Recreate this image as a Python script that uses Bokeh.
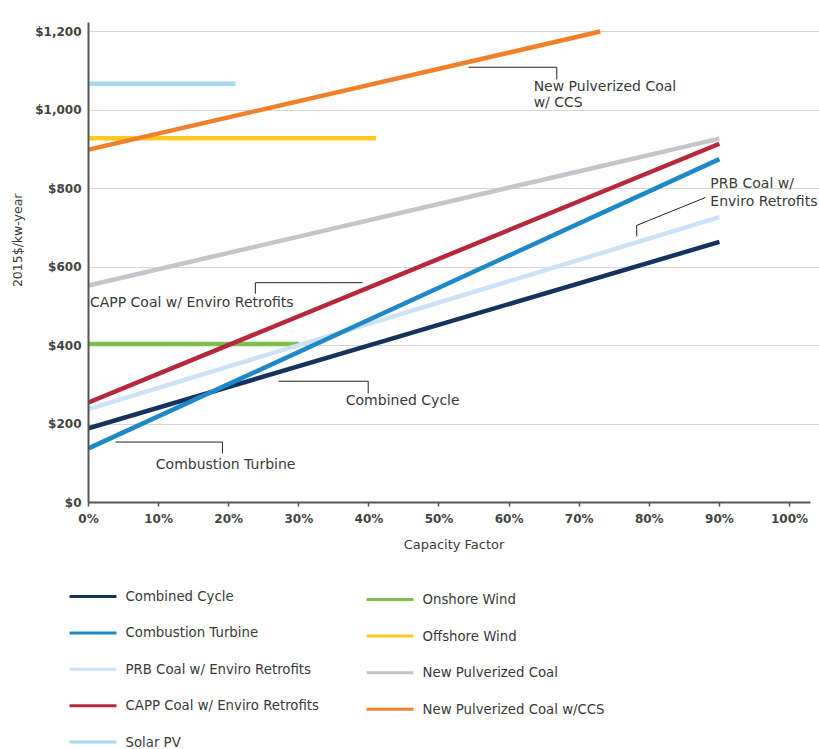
from bokeh.plotting import figure
from bokeh.layouts import column
from bokeh.models import (Range1d, FixedTicker, NumeralTickFormatter,
                          PrintfTickFormatter, Title, ColumnDataSource)
from bokeh.core.properties import value
from bokeh.embed import file_html
from bokeh.resources import INLINE

# ---------------- data ----------------
series = ["Combined Cycle", "Combustion Turbine", "PRB Coal w/ Enviro Retrofits",
          "CAPP Coal w/ Enviro Retrofits", "Solar PV", "Onshore Wind",
          "Offshore Wind", "New Pulverized Coal", "New Pulverized Coal w/CCS"]
colors = ["#15335c", "#1f89c8", "#cde3f5", "#b5283d", "#a8d9ef",
          "#7cc04b", "#fdca22", "#c3c5c9", "#f0802a"]
cf_start = [0, 0, 0, 0, 0, 0, 0, 0, 0]
cf_end = [90, 90, 90, 90, 21, 30, 41, 90, 73]
cost_start = [189, 138, 238, 255, 1067, 404, 928, 553, 899]
cost_end = [664, 875, 727, 914, 1067, 404, 928, 927, 1200]

x_ticks = [0, 10, 20, 30, 40, 50, 60, 70, 80, 90, 100]
y_ticks = [0, 200, 400, 600, 800, 1000, 1200]

# callouts: label lines and leader lines (x in %, y in $)
callout_text = ["New Pulverized Coal", "w/ CCS", "PRB Coal w/", "Enviro Retrofits",
                "CAPP Coal w/ Enviro Retrofits", "Combined Cycle", "Combustion Turbine"]
callout_x = [63.5, 63.5, 88.7, 88.7, 0.2, 36.7, 9.6]
callout_y = [1060, 1020, 815, 769, 512, 262, 97]
leader_xs = [[54.2, 66.8, 66.8], [88.0, 78.2, 78.2], [39.1, 23.8, 23.8],
             [27.1, 39.9, 39.9], [3.85, 19.1, 19.1]]
leader_ys = [[1109, 1109, 1078], [777, 706, 678], [560, 560, 532],
             [309, 309, 278], [154, 154, 125]]

TXT = "#3a3a3a"
AX = "#555555"
FONT = "DejaVu Sans"

# ---------------- main chart ----------------
p = figure(width=819, height=560, output_backend="svg", toolbar_location=None,
           x_range=Range1d(0, 104.28), y_range=Range1d(0, 1223),
           min_border_left=88, min_border_right=0, min_border_top=22,
           min_border_bottom=58, background_fill_color="#ffffff",
           border_fill_color="#ffffff", frame_align=False)
p.outline_line_color = None
p.xgrid.grid_line_color = None
p.ygrid.grid_line_color = "#d6d6d6"
p.ygrid.grid_line_width = 1

p.xaxis.ticker = FixedTicker(ticks=x_ticks)
p.xaxis.formatter = PrintfTickFormatter(format="%d%%")
p.xaxis.bounds = (0, 103)
p.yaxis.ticker = FixedTicker(ticks=y_ticks)
p.yaxis.formatter = NumeralTickFormatter(format="$0,0")
for ax in (p.xaxis, p.yaxis):
    ax.axis_line_color = AX
    ax.axis_line_width = 2
    ax.major_tick_line_color = AX
    ax.major_tick_line_width = 1.5
    ax.minor_tick_line_color = None
    ax.major_label_text_font = FONT
    ax.major_label_text_font_style = "bold"
    ax.major_label_text_font_size = "12px"
    ax.major_label_text_color = "#444444"
p.xaxis.major_tick_out = 4
p.xaxis.major_tick_in = 0
p.xaxis.major_label_standoff = 5
p.yaxis.major_tick_out = 0
p.yaxis.major_tick_in = 0
p.yaxis.major_label_standoff = 7
p.xaxis.axis_label = "Capacity Factor"
p.xaxis.axis_label_text_font = FONT
p.xaxis.axis_label_text_font_style = "normal"
p.xaxis.axis_label_text_font_size = "13px"
p.xaxis.axis_label_text_color = TXT
p.xaxis.axis_label_standoff = 8

p.add_layout(Title(text="2015$/kw-year", align="right", offset=171, standoff=15,
                   text_font=FONT, text_font_size="12.5px",
                   text_font_style="normal", text_color=TXT), "left")

order = [4, 5, 6, 7, 3, 2, 0, 1, 8]
for i in order:
    p.line([cf_start[i], cf_end[i]], [cost_start[i], cost_end[i]],
           line_color=colors[i], line_width=4.5)

p.multi_line(xs=leader_xs, ys=leader_ys, line_color="#222222", line_width=1)
p.text(x=callout_x, y=callout_y, text=callout_text,
       text_font=value(FONT), text_font_size=value("14px"),
       text_color=TXT, text_baseline="middle", text_align="left")

# ---------------- legend ----------------
lg = figure(width=819, height=189, output_backend="svg", toolbar_location=None,
            x_range=Range1d(0, 819), y_range=Range1d(749, 560),
            min_border=0, min_border_left=0, min_border_right=0,
            min_border_top=0, min_border_bottom=0, frame_align=False)
lg.axis.visible = False
lg.grid.visible = False
lg.outline_line_color = None

leg_order = [0, 1, 2, 3, 4, 5, 6, 7, 8]
sx0, sx1, tx, ty = [], [], [], []
for k, i in enumerate(leg_order):
    if k < 5:
        x0, y0 = 69, 596 + 36.4 * k
    else:
        x0, y0 = 366, 599 + 36.6 * (k - 5)
    sx0.append(x0)
    sx1.append(x0 + 47)
    tx.append(x0 + 56)
    ty.append(y0)
src = ColumnDataSource(dict(x0=sx0, x1=sx1, y=ty, tx=tx,
                            c=[colors[i] for i in leg_order],
                            t=[series[i] for i in leg_order]))
lg.segment(x0="x0", y0="y", x1="x1", y1="y", line_color="c", line_width=3, source=src)
lg.text(x="tx", y="y", text="t", text_font=value(FONT),
        text_font_size=value("13.3px"), text_color=TXT, text_baseline="middle",
        source=src)

layout = column(p, lg, spacing=0)
open("out.html", "w").write(file_html(layout, INLINE))
